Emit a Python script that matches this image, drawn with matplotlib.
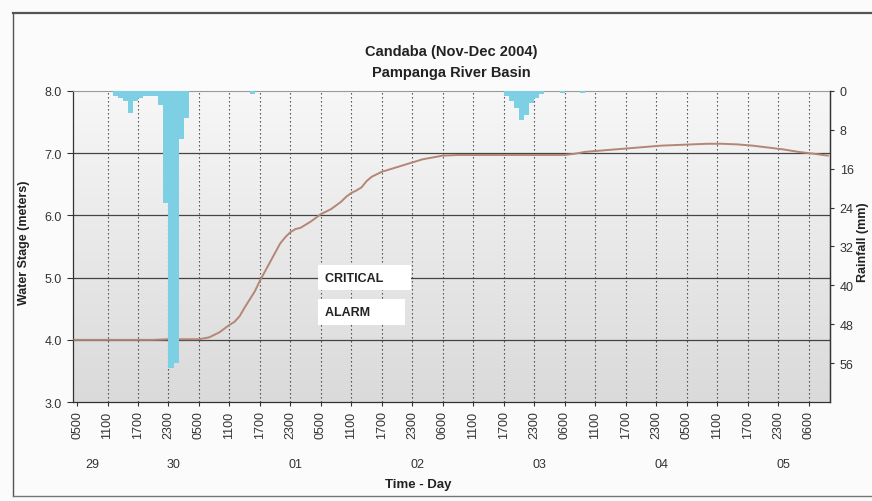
import numpy as np
import matplotlib
matplotlib.use("Agg")
import matplotlib.pyplot as plt
import matplotlib.transforms as mtransforms
from matplotlib.lines import Line2D

plt.rcParams['font.family'] = ['Liberation Sans Narrow', 'Liberation Sans', 'DejaVu Sans']

# ---------------- data ----------------
# x in hours after 29 Nov 05:00
tick_hours = [0, 6, 12, 18, 24, 30, 36, 42, 48, 54, 60, 66, 72, 78, 84, 90,
              96, 102, 108, 114, 120, 126, 132, 138, 144]
tick_labels = ["0500", "1100", "1700", "2300", "0500", "1100", "1700", "2300",
               "0500", "1100", "1700", "2300", "0600", "1100", "1700", "2300",
               "0600", "1100", "1700", "2300", "0500", "1100", "1700", "2300",
               "0600"]
day_labels = ["29", "30", "01", "02", "03", "04", "05"]
day_hours = [3, 19, 43, 67, 91, 115, 139]

# water stage readings (m)
stage_hours = [-0.5, 3, 6, 9, 12, 15, 18, 21, 24, 26, 27, 28, 30, 31, 32, 33,
               34, 35, 36, 37, 38, 39, 40, 41, 42, 43, 44, 45, 46, 47, 48, 49,
               50, 51, 52, 53, 54, 55, 56, 57, 58, 59, 60, 62, 64, 66, 68, 70,
               72, 75, 78, 81, 84, 87, 90, 93, 96, 98, 100, 103, 106, 109, 112,
               115, 118, 121, 124, 127, 130, 133, 136, 139, 142, 145, 147.8]
stage_m = [4.00, 4.00, 4.00, 4.00, 4.00, 4.00, 4.01, 4.01, 4.01, 4.04, 4.08,
           4.12, 4.24, 4.29, 4.38, 4.52, 4.65, 4.78, 4.95, 5.10, 5.25, 5.40,
           5.55, 5.65, 5.73, 5.78, 5.80, 5.85, 5.90, 5.96, 6.02, 6.06, 6.10,
           6.16, 6.22, 6.30, 6.36, 6.40, 6.45, 6.55, 6.62, 6.66, 6.70, 6.75,
           6.80, 6.85, 6.90, 6.93, 6.96, 6.97, 6.97, 6.97, 6.97, 6.97, 6.97,
           6.97, 6.97, 6.99, 7.02, 7.04, 7.06, 7.08, 7.10, 7.12, 7.13, 7.14,
           7.15, 7.15, 7.14, 7.12, 7.09, 7.06, 7.02, 6.99, 6.96]

# hourly rainfall (mm)
rain_hours = [7, 8, 9, 10, 11, 12, 13, 14, 15, 16, 17, 18, 19, 20, 21,
              34, 84, 85, 86, 87, 88, 89, 90, 91, 95, 99]
rain_mm = [1.0, 1.5, 2.0, 4.5, 2.0, 1.5, 1.0, 1.0, 1.0, 3.0, 23.0, 57.0, 56.0,
           10.0, 5.5, 0.6, 1.0, 2.0, 3.5, 6.0, 5.0, 2.5, 1.5, 0.6, 0.5, 0.5]

critical_level = 5.0
alarm_level = 4.0

# ---------------- figure ----------------
fig = plt.figure(figsize=(8.72, 5.02), dpi=100, facecolor='#fbfbfb')
ax = fig.add_axes([0.0837, 0.197, 0.868, 0.620])

# gradient background
grad = np.linspace(0, 1, 256).reshape(-1, 1)
from matplotlib.colors import LinearSegmentedColormap
cm = LinearSegmentedColormap.from_list('bg', ['#f7f7f7', '#dadada'])
ax.imshow(grad, extent=[0, 1, 0, 1], transform=ax.transAxes, aspect='auto',
          cmap=cm, zorder=0, origin='upper')

ax.set_xlim(-0.8, 148.2)
ax.set_ylim(3.0, 8.0)
ax.set_yticks([3.0, 4.0, 5.0, 6.0, 7.0, 8.0])
ax.set_yticklabels(["3.0", "4.0", "5.0", "6.0", "7.0", "8.0"], fontsize=9, color='#333333')
ax.set_xticks(tick_hours)
ax.set_xticklabels(tick_labels, rotation=90, fontsize=9, color='#333333')
ax.tick_params(axis='y', direction='out', length=4, width=0.8, pad=4, colors='#333333')
ax.tick_params(axis='x', direction='out', length=3, width=0.8, pad=3, colors='#333333')

for y in [4.0, 5.0, 6.0, 7.0]:
    ax.axhline(y, color='#444444', lw=0.9, zorder=1)
for h in tick_hours[1:]:
    ax.axvline(h, color='#3a3a3a', lw=0.8, linestyle=(0, (1.2, 2.4)), zorder=1)

ax.plot(stage_hours, stage_m, color='#b48676', lw=1.4, zorder=3)

for s in ['left', 'bottom', 'right']:
    ax.spines[s].set_color('#333333')
    ax.spines[s].set_linewidth(0.9)
ax.spines['top'].set_color('#9a9a9a')
ax.spines['top'].set_linewidth(0.8)

ax.text(48.8, critical_level, "CRITICAL      ", fontsize=9, fontweight='bold',
        va='center', ha='left', color='#222222', zorder=4,
        bbox=dict(facecolor='white', edgecolor='none', boxstyle='square,pad=0.55'))
ax.text(48.8, 4.45, "ALARM        ", fontsize=9, fontweight='bold',
        va='center', ha='left', color='#222222', zorder=4,
        bbox=dict(facecolor='white', edgecolor='none', boxstyle='square,pad=0.55'))

# rainfall on right axis (inverted)
ax2 = ax.twinx()
ax2.bar(rain_hours, rain_mm, width=1.0, align='edge', color='#7dd0e3',
        edgecolor='none', zorder=2)
ax2.set_ylim(64, 0)
ax2.set_yticks([0, 8, 16, 24, 32, 40, 48, 56])
ax2.set_yticklabels(["0", "8", "16", "24", "32", "40", "48", "56"], fontsize=9, color='#333333')
ax2.tick_params(axis='y', direction='out', length=3, width=0.8, pad=4, colors='#333333')
for s in ['left', 'bottom', 'top']:
    ax2.spines[s].set_visible(False)
ax2.spines['right'].set_color('#333333')
ax2.spines['right'].set_linewidth(0.9)

# day labels
trans = mtransforms.blended_transform_factory(ax.transData, fig.transFigure)
for h, d in zip(day_hours, day_labels):
    ax.text(h, 0.074, d, transform=trans, ha='center', va='center',
            fontsize=9, color='#333333')

# titles and axis labels
fig.text(0.517, 0.896, "Candaba (Nov-Dec 2004)", ha='center', va='center',
         fontsize=10.5, fontweight='bold', color='#222222')
fig.text(0.517, 0.855, "Pampanga River Basin", ha='center', va='center',
         fontsize=10.5, fontweight='bold', color='#222222')
fig.text(0.48, 0.034, "Time - Day", ha='center', va='center',
         fontsize=9.5, fontweight='bold', color='#222222')
fig.text(0.027, 0.516, "Water Stage (meters)", rotation=90, ha='center', va='center',
         fontsize=9, fontweight='bold', color='#222222')
fig.text(0.990, 0.518, "Rainfall (mm)", rotation=90, ha='center', va='center',
         fontsize=9, fontweight='bold', color='#222222')

# outer frame
fig.add_artist(Line2D([0.015, 1.0], [0.972, 0.972], transform=fig.transFigure,
                      color='#555555', lw=1.6))
fig.add_artist(Line2D([0.015, 0.015], [0.01, 0.972], transform=fig.transFigure,
                      color='#555555', lw=1.0))
fig.add_artist(Line2D([0.015, 1.0], [0.01, 0.01], transform=fig.transFigure,
                      color='#777777', lw=1.0))

fig.savefig("out.png", dpi=100, facecolor=fig.get_facecolor())
